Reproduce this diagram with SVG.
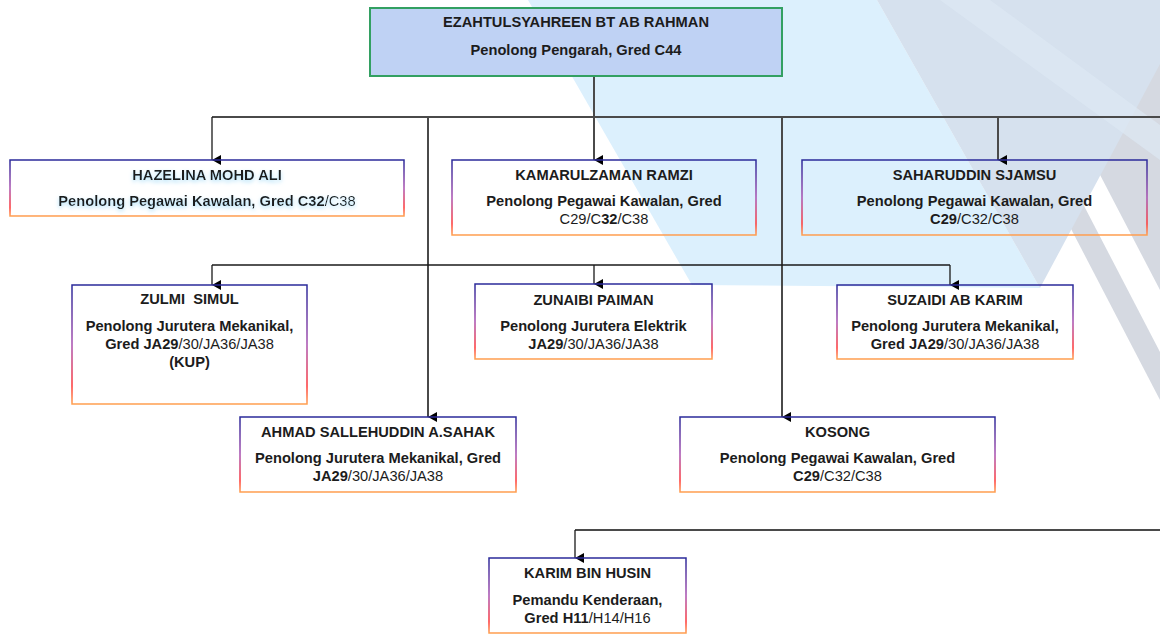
<svg xmlns="http://www.w3.org/2000/svg" width="1160" height="634" viewBox="0 0 1160 634">
<defs>
<style>
.t{font-family:"Liberation Sans",Arial,sans-serif;font-size:14.67px;fill:#1c1c1c;text-anchor:middle}
.b{font-weight:bold}
.r{font-weight:normal}
.box{fill:none;stroke:url(#bg);stroke-width:1.5}
.ln{fill:none;stroke:#4a4a4a;stroke-width:2}
.ln2{fill:none;stroke:#1a1a1a;stroke-width:1.3}
.stripe{fill:#d5d9e1}
</style>
<linearGradient id="bg" x1="0" y1="0" x2="0" y2="1">
<stop offset="0" stop-color="#2a2a9a"/>
<stop offset="0.5" stop-color="#a850b0"/>
<stop offset="0.85" stop-color="#ff3838"/>
<stop offset="1" stop-color="#ffa050"/>
</linearGradient>
<marker id="ah" markerWidth="10" markerHeight="10" refX="5" refY="9" orient="auto-start-reverse" markerUnits="userSpaceOnUse" viewBox="0 0 10 10">
<path d="M0,0 L10,0 L5,9 Z" fill="#000"/>
</marker>
<filter id="glow" x="-10%" y="-50%" width="120%" height="200%">
<feGaussianBlur in="SourceAlpha" stdDeviation="2"/>
<feOffset dy="2" result="o"/>
<feFlood flood-color="#a9def8"/>
<feComposite in2="o" operator="in"/>
<feMerge><feMergeNode/><feMergeNode in="SourceGraphic"/></feMerge>
</filter>
</defs>
<rect width="1160" height="634" fill="#fff"/>
<g id="background">
<polygon points="528,0 877,0 1040,288 692,285" fill="#dcf0fd"/>
<polygon class="stripe" points="952,0 977,0 1160,352 1160,400"/>
<polygon class="stripe" points="1009,0 1160,0 1160,290"/>
<polygon points="877,0 1160,0 1160,64 1040,288" fill="#d6e1ee"/>
<polygon points="940,0 990,0 1160,125 1160,160" fill="#dde8f3" opacity="0.7"/>
</g>
<g id="connectors">
<line class="ln" x1="594" y1="77" x2="594" y2="160" marker-end="url(#ah)"/>
<line class="ln" x1="212" y1="117" x2="1160" y2="117"/>
<line class="ln2" x1="212" y1="117" x2="212" y2="160" marker-end="url(#ah)"/>
<line class="ln" x1="428" y1="117" x2="428" y2="417" marker-end="url(#ah)"/>
<line class="ln" x1="782" y1="117" x2="782" y2="417" marker-end="url(#ah)"/>
<line class="ln" x1="998" y1="117" x2="998" y2="160" marker-end="url(#ah)"/>
<line class="ln2" x1="212" y1="265" x2="950" y2="265"/>
<line class="ln2" x1="212" y1="265" x2="212" y2="285" marker-end="url(#ah)"/>
<line class="ln2" x1="594" y1="265" x2="594" y2="284" marker-end="url(#ah)"/>
<line class="ln2" x1="950" y1="265" x2="950" y2="285" marker-end="url(#ah)"/>
<line class="ln" x1="575" y1="530" x2="1160" y2="530"/>
<line class="ln2" x1="575" y1="530" x2="575" y2="558" marker-end="url(#ah)"/>
</g>
<g id="n-ezahtul">
<rect x="370" y="8" width="412" height="68" fill="#bfd2f4" stroke="#33a062" stroke-width="2"/>
<text class="t b" x="576" y="27">EZAHTULSYAHREEN BT AB RAHMAN</text>
<text class="t b" x="576" y="55">Penolong Pengarah, Gred C44</text>
</g>
<g id="n-hazelina">
<rect class="box" x="10" y="160" width="394" height="56"/>
<g filter="url(#glow)">
<text class="t b" x="207" y="180">HAZELINA MOHD ALI</text>
<text class="t b" x="207" y="206">Penolong Pegawai Kawalan, Gred C32<tspan class="r">/C38</tspan></text>
</g>
</g>
<g id="n-kamarulzaman">
<rect class="box" x="452" y="160" width="304" height="75"/>
<text class="t b" x="604" y="180">KAMARULZAMAN RAMZI</text>
<text class="t b" x="604" y="206">Penolong Pegawai Kawalan, Gred</text>
<text class="t r" x="604" y="224">C29/C<tspan class="b">32</tspan>/C38</text>
</g>
<g id="n-saharuddin">
<rect class="box" x="802" y="160" width="345" height="75"/>
<text class="t b" x="974.5" y="180">SAHARUDDIN SJAMSU</text>
<text class="t b" x="974.5" y="206">Penolong Pegawai Kawalan, Gred</text>
<text class="t r" x="974.5" y="224"><tspan class="b">C29</tspan>/C32/C38</text>
</g>
<g id="n-zulmi">
<rect class="box" x="72" y="285" width="235" height="119"/>
<text class="t b" x="189.5" y="304" xml:space="preserve">ZULMI  SIMUL</text>
<text class="t b" x="189.5" y="331">Penolong Jurutera Mekanikal,</text>
<text class="t b" x="189.5" y="349">Gred JA29<tspan class="r">/30/JA36/JA38</tspan></text>
<text class="t b" x="189.5" y="367">(KUP)</text>
</g>
<g id="n-zunaibi">
<rect class="box" x="475" y="284" width="237" height="75"/>
<text class="t b" x="593.5" y="305">ZUNAIBI PAIMAN</text>
<text class="t b" x="593.5" y="331">Penolong Jurutera Elektrik</text>
<text class="t b" x="593.5" y="349">JA29<tspan class="r">/30/JA36/JA38</tspan></text>
</g>
<g id="n-suzaidi">
<rect class="box" x="837" y="285" width="236" height="74"/>
<text class="t b" x="955" y="305">SUZAIDI AB KARIM</text>
<text class="t b" x="955" y="331">Penolong Jurutera Mekanikal,</text>
<text class="t b" x="955" y="349">Gred JA29<tspan class="r">/30/JA36/JA38</tspan></text>
</g>
<g id="n-ahmad">
<rect class="box" x="240" y="417" width="276" height="75"/>
<text class="t b" x="378" y="437">AHMAD SALLEHUDDIN A.SAHAK</text>
<text class="t b" x="378" y="463">Penolong Jurutera Mekanikal, Gred</text>
<text class="t b" x="378" y="481">JA29<tspan class="r">/30/JA36/JA38</tspan></text>
</g>
<g id="n-kosong">
<rect class="box" x="680" y="417" width="315" height="75"/>
<text class="t b" x="837.5" y="437">KOSONG</text>
<text class="t b" x="837.5" y="463">Penolong Pegawai Kawalan, Gred</text>
<text class="t r" x="837.5" y="481"><tspan class="b">C29</tspan>/C32/C38</text>
</g>
<g id="n-karim">
<rect class="box" x="489" y="558" width="197" height="75"/>
<text class="t b" x="587.5" y="578">KARIM BIN HUSIN</text>
<text class="t b" x="587.5" y="605">Pemandu Kenderaan,</text>
<text class="t b" x="587.5" y="623">Gred H11<tspan class="r">/H14/H16</tspan></text>
</g>
</svg>
